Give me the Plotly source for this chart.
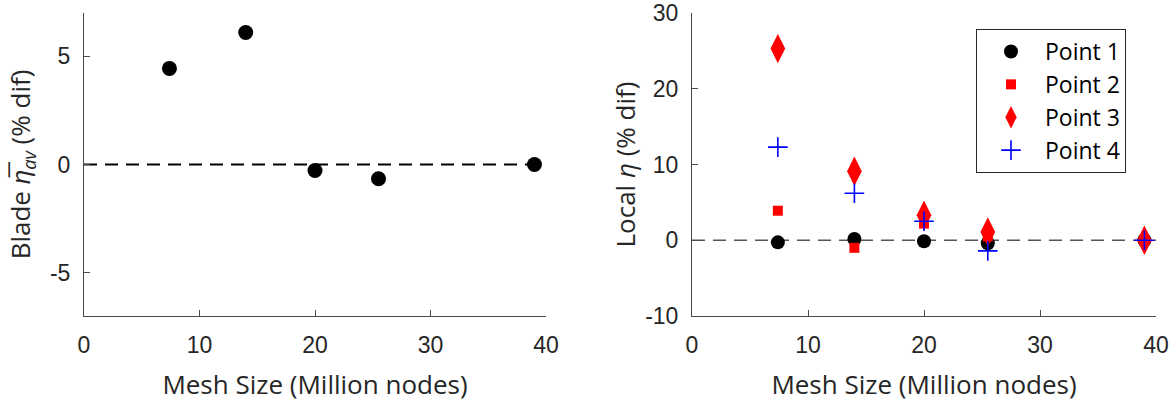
import plotly.graph_objects as go

# ---- data ----
mesh_size = [7.4, 14.0, 20.0, 25.5, 39.0]
blade_eta_av = [4.44, 6.1, -0.28, -0.66, 0.0]

point1 = [-0.28, 0.17, -0.14, -0.4, 0.0]
point2 = [3.9, -1.0, 2.2, 0.5, 0.0]
point3 = [25.3, 9.1, 3.3, 1.1, 0.0]
point4 = [12.3, 6.2, 2.5, -1.4, 0.0]

zero_x = [0, 40]
zero_y = [0, 0]

x_ticks = [0, 10, 20, 30, 40]
x_tick_labels = ["0", "10", "20", "30", "40"]
left_y_ticks = [-5, 0, 5]
left_y_tick_labels = ["-5", "0", "5"]
right_y_ticks = [-10, 0, 10, 20, 30]
right_y_tick_labels = ["-10", "0", "10", "20", "30"]

W, H = 1176, 403
TXT = "#262626"
AX = "#4a4a4a"
TICKFONT = dict(family="Liberation Sans, Arial, sans-serif", size=23, color=TXT)
TITLEFONT = dict(family="Open Sans, sans-serif", size=26, color=TXT)

fig = go.Figure()

# left panel
fig.add_trace(go.Scatter(x=zero_x, y=zero_y, mode="lines", showlegend=False,
                         line=dict(color="black", width=1.8, dash="13px,8px"),
                         xaxis="x", yaxis="y", hoverinfo="skip"))
fig.add_trace(go.Scatter(x=mesh_size, y=blade_eta_av, mode="markers", showlegend=False,
                         marker=dict(symbol="circle", size=15, color="black"),
                         xaxis="x", yaxis="y"))

# right panel
fig.add_trace(go.Scatter(x=zero_x, y=zero_y, mode="lines", showlegend=False,
                         line=dict(color="#555555", width=1.5, dash="13px,8px"),
                         xaxis="x2", yaxis="y2", hoverinfo="skip"))
fig.add_trace(go.Scatter(x=mesh_size, y=point1, mode="markers", name="Point 1",
                         marker=dict(symbol="circle", size=14, color="black"),
                         xaxis="x2", yaxis="y2"))
fig.add_trace(go.Scatter(x=mesh_size, y=point2, mode="markers", name="Point 2",
                         marker=dict(symbol="square", size=10, color="red"),
                         xaxis="x2", yaxis="y2"))
fig.add_trace(go.Scatter(x=mesh_size, y=point3, mode="markers", name="Point 3",
                         marker=dict(symbol="diamond-tall", size=21, color="red"),
                         xaxis="x2", yaxis="y2"))
fig.add_trace(go.Scatter(x=mesh_size, y=point4, mode="markers", name="Point 4",
                         marker=dict(symbol="cross-thin", size=14, color="blue",
                                     line=dict(color="blue", width=1.6)),
                         xaxis="x2", yaxis="y2"))

ydom = [(H - 316) / H, (H - 13) / H]
common_axis = dict(showline=True, linecolor=AX, linewidth=1, mirror=False,
                   ticks="inside", ticklen=6, tickcolor=AX, tickwidth=1,
                   showgrid=False, zeroline=False, tickfont=TICKFONT,
                   ticklabelstandoff=8, automargin=False)

fig.update_layout(
    width=W, height=H,
    margin=dict(l=0, r=0, t=0, b=0, autoexpand=False),
    paper_bgcolor="white", plot_bgcolor="white",
    xaxis=dict(domain=[84 / W, 546 / W], range=[0, 40],
               tickvals=x_ticks, ticktext=x_tick_labels,
               title=dict(text="Mesh Size (Million nodes)", font=TITLEFONT, standoff=19),
               anchor="y", **common_axis),
    yaxis=dict(domain=ydom, range=[-7, 7],
               tickvals=left_y_ticks, ticktext=left_y_tick_labels,
               title=dict(text="Blade <i>η\u0305<sub>av</sub></i> (% dif)", font=TITLEFONT, standoff=11),
               anchor="x", **common_axis),
    xaxis2=dict(domain=[692 / W, 1156 / W], range=[0, 40],
                tickvals=x_ticks, ticktext=x_tick_labels,
                title=dict(text="Mesh Size (Million nodes)", font=TITLEFONT, standoff=19),
                anchor="y2", **common_axis),
    yaxis2=dict(domain=ydom, range=[-10, 30],
                tickvals=right_y_ticks, ticktext=right_y_tick_labels,
                title=dict(text="Local <i>η</i> (% dif)", font=TITLEFONT, standoff=2),
                anchor="x2", **common_axis),
    legend=dict(x=976 / W, y=(H - 29) / H, xanchor="left", yanchor="top",
                bgcolor="white", bordercolor="#262626", borderwidth=1,
                font=dict(family="Open Sans, sans-serif", size=23, color="black"),
                itemwidth=58, tracegroupgap=0),
    showlegend=True,
)

fig.write_html("out.html", config={"displayModeBar": False},
               post_script="document.body.style.margin='0';")
